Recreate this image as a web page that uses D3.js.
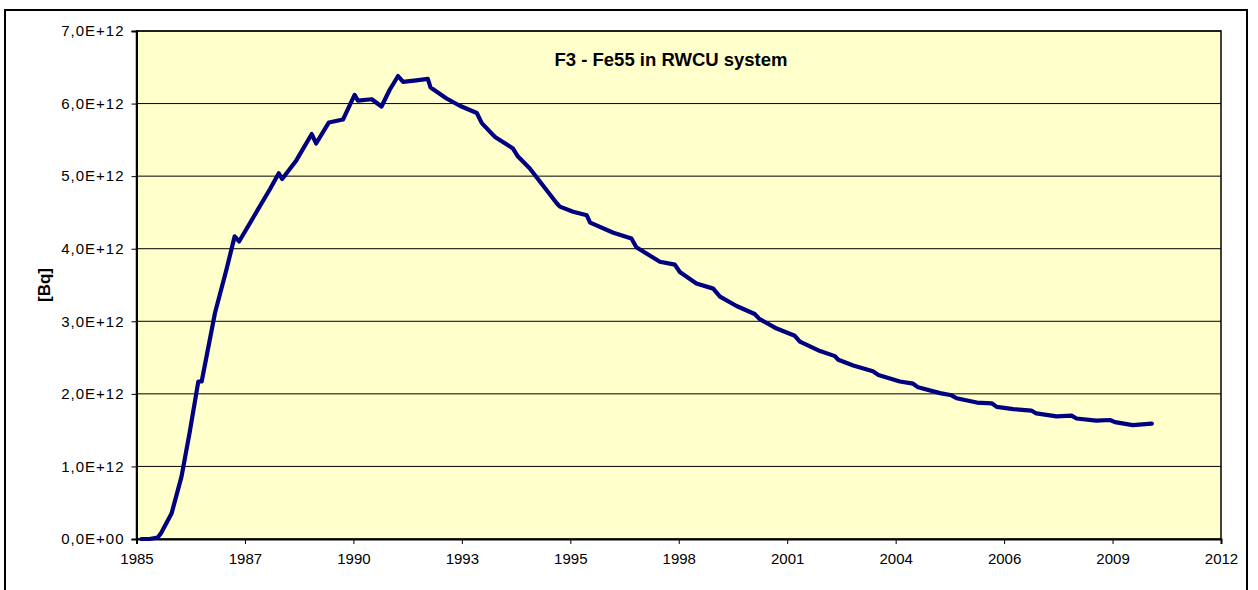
<!DOCTYPE html>
<html>
<head>
<meta charset="utf-8">
<script src="https://cdn.jsdelivr.net/npm/d3@7"></script>
<style>
  body { margin: 0; background: #fff; }
  svg { display: block; font-family: "Liberation Sans", Arial, sans-serif; }
</style>
</head>
<body>
<div id="chart"></div>
<script>
// données (activité en 1E+12 Bq)
const dates = [
  "1985-02-15", "1985-05-01", "1985-07-15", "1985-08-15", "1985-11-20",
  "1986-02-20", "1986-05-05", "1986-07-25", "1986-08-25", "1986-12-25",
  "1987-04-10", "1987-06-25", "1987-08-05", "1988-05-15", "1988-08-05",
  "1988-09-05", "1989-01-15", "1989-06-05", "1989-07-15", "1989-11-10",
  "1990-03-20", "1990-07-05", "1990-08-05", "1990-12-10", "1991-03-10",
  "1991-05-25", "1991-08-10", "1991-09-25", "1992-01-25", "1992-05-10",
  "1992-06-05", "1992-10-30", "1993-03-01", "1993-08-05", "1993-09-20",
  "1994-01-20", "1994-07-05", "1994-08-20", "1994-12-05", "1995-08-10",
  "1995-09-10", "1996-01-10", "1996-05-15", "1996-06-15", "1997-01-15",
  "1997-07-01", "1997-08-15", "1998-03-20", "1998-08-05", "1998-09-20",
  "1999-02-20", "1999-07-25", "1999-09-25", "2000-02-25", "2000-08-10",
  "2000-09-25", "2001-03-01", "2001-08-15", "2001-10-01", "2002-04-05",
  "2002-08-20", "2002-09-20", "2003-02-05", "2003-08-05", "2003-09-25",
  "2004-04-10", "2004-08-10", "2004-09-25", "2005-04-15", "2005-07-30",
  "2005-09-15", "2006-03-20", "2006-08-05", "2006-09-20", "2007-02-20",
  "2007-08-05", "2007-09-20", "2008-03-25", "2008-08-10", "2008-09-25",
  "2009-03-25", "2009-07-30", "2009-09-15", "2010-02-25", "2010-08-20"
];

const fe55 = [
  0.00, 0.00, 0.02, 0.08, 0.35,
  0.86, 1.46, 2.17, 2.17, 3.11,
  3.71, 4.17, 4.10, 4.82, 5.04,
  4.96, 5.22, 5.58, 5.45, 5.74,
  5.78, 6.12, 6.04, 6.06, 5.96,
  6.19, 6.38, 6.30, 6.32, 6.34,
  6.22, 6.07, 5.97, 5.87, 5.73,
  5.54, 5.38, 5.27, 5.11, 4.63,
  4.58, 4.51, 4.46, 4.36, 4.22,
  4.14, 4.02, 3.82, 3.78, 3.68,
  3.52, 3.45, 3.34, 3.21, 3.10,
  3.03, 2.90, 2.80, 2.72, 2.59,
  2.52, 2.47, 2.39, 2.31, 2.26,
  2.17, 2.14, 2.09, 2.01, 1.98,
  1.94, 1.88, 1.87, 1.82, 1.79,
  1.77, 1.73, 1.69, 1.70, 1.66,
  1.63, 1.64, 1.61, 1.57, 1.59
];

// graduations
const yTicks = [0, 1, 2, 3, 4, 5, 6, 7];
const xTickLabels = ["1985", "1987", "1990", "1993", "1995", "1998", "2001", "2004", "2006", "2009", "2012"];
const xStart = "1985-01-01";
const xStepDays = 1000;

const title = "F3 - Fe55 in RWCU system";
const yTitle = "[Bq]";
const UNIT = 1e12;

// dimensions
const width = 1258, height = 590;
const plot = { left: 136.5, right: 1221, top: 31, bottom: 539 };

const parse = d3.utcParse("%Y-%m-%d");
const data = dates.map((d, i) => ({ date: parse(d), value: fe55[i] * UNIT }));

const start = parse(xStart);
const xTickValues = xTickLabels.map((l, i) => d3.utcDay.offset(start, i * xStepDays));

const svg = d3.select("#chart")
  .append("svg")
  .attr("width", width)
  .attr("height", height);

// cadre extérieur
svg.append("rect")
  .attr("x", 5).attr("y", 10)
  .attr("width", 1242).attr("height", 600)
  .attr("fill", "#fff")
  .attr("stroke", "#000")
  .attr("stroke-width", 2);

// échelles
const x = d3.scaleUtc()
  .domain([start, xTickValues[xTickValues.length - 1]])
  .range([plot.left, plot.right]);

const y = d3.scaleLinear()
  .domain([0, 7 * UNIT])
  .range([plot.bottom, plot.top]);

// fond de la zone de tracé
svg.append("rect")
  .attr("x", plot.left).attr("y", plot.top)
  .attr("width", plot.right - plot.left)
  .attr("height", plot.bottom - plot.top)
  .attr("fill", "#ffffcc");

// quadrillage horizontal
svg.append("g")
  .selectAll("line")
  .data(yTicks.slice(1))
  .join("line")
  .attr("x1", plot.left).attr("x2", plot.right)
  .attr("y1", d => y(d * UNIT)).attr("y2", d => y(d * UNIT))
  .attr("stroke", "#000")
  .attr("stroke-width", 1);

// bord de la zone de tracé
svg.append("rect")
  .attr("x", plot.left).attr("y", plot.top)
  .attr("width", plot.right - plot.left)
  .attr("height", plot.bottom - plot.top)
  .attr("fill", "none")
  .attr("stroke", "#000")
  .attr("stroke-width", 1.5);

// format 7,0E+12
function sci(v) {
  if (v === 0) return "0,0E+00";
  const e = Math.floor(Math.log10(v));
  const m = v / Math.pow(10, e);
  return m.toFixed(1).replace(".", ",") + "E+" + String(e).padStart(2, "0");
}

// axe y
const yAxis = d3.axisLeft(y)
  .tickValues(yTicks.map(d => d * UNIT))
  .tickFormat(sci)
  .tickSize(5)
  .tickPadding(7);

svg.append("g")
  .attr("transform", `translate(${plot.left},0)`)
  .call(yAxis)
  .call(g => g.select(".domain").attr("stroke-width", 2))
  .call(g => g.selectAll("text")
    .attr("font-size", 15)
    .attr("letter-spacing", 1)
    .attr("fill", "#000")
    .attr("font-family", "Liberation Sans, Arial, sans-serif"));

// axe x
const xAxis = d3.axisBottom(x)
  .tickValues(xTickValues)
  .tickFormat((d, i) => xTickLabels[i])
  .tickSize(5)
  .tickPadding(9);

svg.append("g")
  .attr("transform", `translate(0,${plot.bottom})`)
  .call(xAxis)
  .call(g => g.select(".domain").attr("stroke-width", 2))
  .call(g => g.selectAll("text")
    .attr("font-size", 15)
    .attr("fill", "#000")
    .attr("font-family", "Liberation Sans, Arial, sans-serif"));

// courbe
const line = d3.line()
  .x(d => x(d.date))
  .y(d => y(d.value));

svg.append("path")
  .datum(data)
  .attr("fill", "none")
  .attr("stroke", "#000080")
  .attr("stroke-width", 4.2)
  .attr("stroke-linejoin", "round")
  .attr("stroke-linecap", "round")
  .attr("d", line);

// titre
svg.append("text")
  .attr("x", 671)
  .attr("y", 66)
  .attr("text-anchor", "middle")
  .attr("font-size", 18.5)
  .attr("font-weight", "bold")
  .text(title);

// titre de l'axe y
svg.append("text")
  .attr("transform", "rotate(-90)")
  .attr("x", -285)
  .attr("y", 50)
  .attr("text-anchor", "middle")
  .attr("font-size", 17)
  .attr("font-weight", "bold")
  .text(yTitle);
</script>
</body>
</html>
